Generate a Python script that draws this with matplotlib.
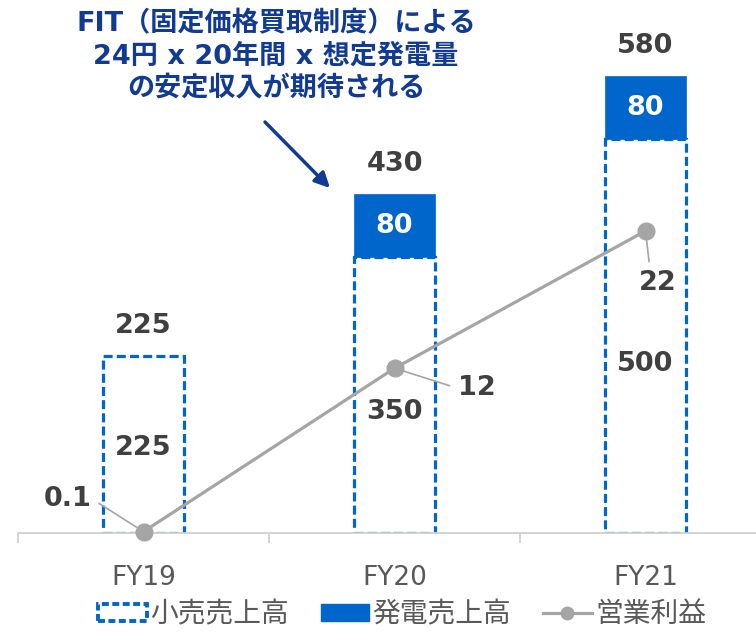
import matplotlib.pyplot as plt
from matplotlib.patches import Patch
from matplotlib.lines import Line2D

plt.rcParams['font.family'] = ['DejaVu Sans', 'Noto Sans CJK JP']
plt.rcParams['lines.scale_dashes'] = False

# FY別 売上高（小売・発電）と営業利益
years = ['FY19', 'FY20', 'FY21']
retail = [225, 350, 500]
power = [0, 80, 80]
profit = [0.1, 12, 22]
profit_labels = ['0.1', '12', '22']

BLUE = '#0066cc'
GRAY = '#a5a5a5'
DARK = '#404040'
NAVY = '#103a94'

fig = plt.figure(figsize=(7.56, 6.33), dpi=100)
ax = fig.add_axes([18 / 756, 100 / 633, 1 - 18 / 756, 512 / 633])
x = list(range(len(years)))
w = 0.32

ax.bar(x, retail, width=w, facecolor='white', edgecolor=BLUE,
       linewidth=2.3, linestyle=(0, (6.5, 3)), zorder=2)
pw = [p if p > 0 else float('nan') for p in power]
ax.bar(x, pw, width=w, bottom=retail, color=BLUE, edgecolor=BLUE,
       linewidth=0.5, zorder=3)

ax.set_yticks([])
for s in ['top', 'right', 'left']:
    ax.spines[s].set_visible(False)
ax.spines['bottom'].set_color('#d0d0d0')
ax.spines['bottom'].set_linewidth(1.3)
ax.set_xticks(x)
ax.set_xticklabels(years, fontsize=19, color='#595959')
ax.tick_params(axis='x', which='major', length=0, pad=23)
ax.set_xticks([-0.5, 0.5, 1.5], minor=True)
ax.tick_params(axis='x', which='minor', length=7.5, width=1.3,
               color='#d0d0d0')
# ticks first, limits after (set_xticks widens the view)
ax.set_xlim(-0.5, 2.44)
ax.set_ylim(0, 650)

lbl = dict(ha='center', va='center', fontsize=19.5, fontweight='bold')
inner_pos = [0.48, 0.44, 0.43]
for i in x:
    total = retail[i] + power[i]
    ax.annotate(str(total), (i, total), xytext=(0, 30),
                textcoords='offset pixels', color=DARK, **lbl)
    ax.text(i, retail[i] * inner_pos[i], str(retail[i]), color=DARK,
            zorder=5, **lbl)
    if power[i] > 0:
        ax.text(i, retail[i] + power[i] / 2, str(power[i]), color='white',
                zorder=5, **lbl)

# 営業利益は第2軸
ax2 = ax.twinx()
ax2.set_ylim(0, 512 / 13.73)
ax2.axis('off')
ax2.plot(x, profit, color=GRAY, linewidth=2.3, marker='o', markersize=12,
         zorder=4, clip_on=False)
offsets = [(-76, 33), (82, -20), (12, -52)]
relpos = [(1.0, 0.5), (0.0, 0.5), (0.3, 1.0)]
for i in x:
    ax2.annotate(profit_labels[i], (i, profit[i]), xytext=offsets[i],
                 textcoords='offset pixels', color=DARK,
                 arrowprops=dict(arrowstyle='-', color=GRAY, lw=1.2,
                                 shrinkA=4, shrinkB=6, relpos=relpos[i]),
                 **lbl)

fig.text(276 / 756, 1 - 57 / 633,
         'FIT（固定価格買取制度）による\n24円 x 20年間 x 想定発電量\nの安定収入が期待される',
         ha='center', va='center', fontsize=19.5, fontweight='bold',
         color=NAVY, linespacing=1.33)
ax.annotate('', xy=(330 / 756, 1 - 188 / 633), xycoords='figure fraction',
            xytext=(265 / 756, 1 - 122 / 633), textcoords='figure fraction',
            arrowprops=dict(arrowstyle='-|>,head_length=0.9,head_width=0.45',
                            color=NAVY, lw=2.5, shrinkA=0, shrinkB=0))

handles = [
    Patch(facecolor='white', edgecolor=BLUE, linewidth=2.8,
          linestyle=(0, (5, 2.5)), label='小売売上高'),
    Patch(facecolor=BLUE, edgecolor=BLUE, label='発電売上高'),
    Line2D([], [], color=GRAY, lw=2.3, marker='o', markersize=9,
           label='営業利益'),
]
fig.legend(handles=handles, loc='center', ncol=3, frameon=False,
           bbox_to_anchor=(402 / 756, 1 - 614 / 633),
           prop={'family': ['Noto Sans CJK JP'], 'size': 20},
           labelcolor='#595959', handlelength=1.75, handleheight=0.55,
           handletextpad=0.12, columnspacing=1.15)

fig.savefig('out.png', dpi=100)
